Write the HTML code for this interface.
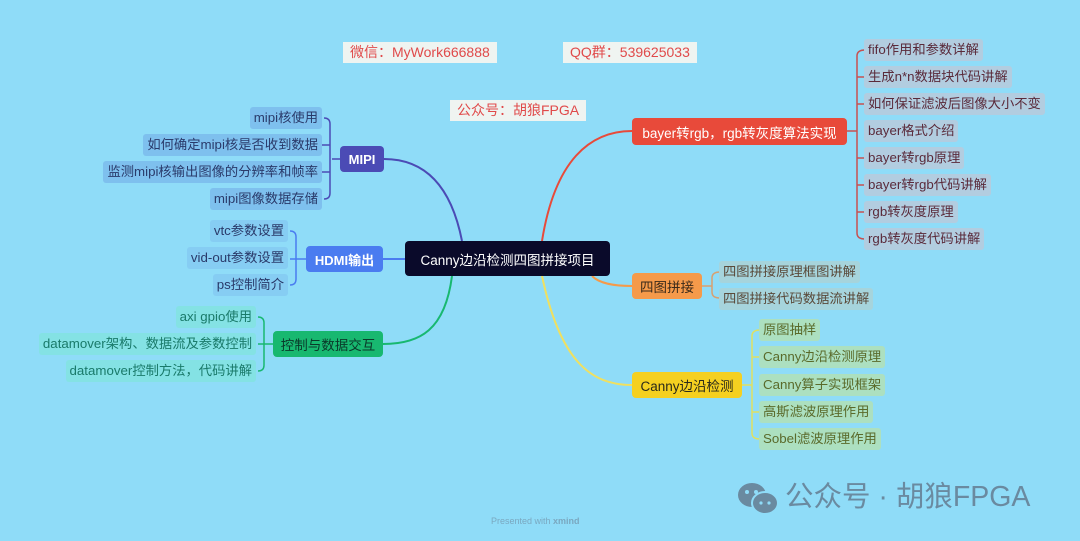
<!DOCTYPE html>
<html><head><meta charset="utf-8"><style>
body{margin:0;width:1080px;height:541px;background:#8fdcf8;position:relative;overflow:hidden;font-family:"Liberation Sans","Noto Sans CJK SC",sans-serif;}
.n{position:absolute;box-sizing:border-box;border-radius:4px;font-size:13px;display:flex;align-items:center;justify-content:center;white-space:nowrap;}
.m{color:#fff;font-weight:bold;}
.c{position:absolute;box-sizing:border-box;border-radius:3px;font-size:13.3px;height:22px;line-height:22px;padding:0 4px;white-space:nowrap;}
.L{background:#7ec0ee;color:#2a3a6a;}
.H{background:#86cdf3;color:#2a3a6a;}
.G{background:#84e2e4;color:#1a7a6a;}
.R{background:#b2cde0;color:#5a2a3a;}
.O{background:#a6d4dc;color:#5a4a3a;}
.Y{background:#ace0c0;color:#5a6a2a;}
.w{position:absolute;background:rgba(250,246,240,0.9);color:#e04a4a;font-size:14px;height:21px;line-height:21px;padding:0 7px;}
</style></head><body>
<svg width="1080" height="541" style="position:absolute;left:0;top:0">
<g fill="none" stroke-width="2">
<path d="M462 241 C450 180 420 159 384 159" stroke="#4b4bb5"/>
<path d="M405 259 L383 259" stroke="#4a7cf0"/>
<path d="M452 276 C445 330 420 344 383 344" stroke="#18b870"/>
<path d="M542 241 C555 160 590 131 632 131" stroke="#e84a3a"/>
<path d="M592 276 C600 284 615 286 632 286" stroke="#f59a4a"/>
<path d="M542 276 C560 360 590 385 632 385" stroke="#f0e060"/>
</g>
<g fill="none" stroke-width="1.5">
<path d="M340 159 H332 M324 118 Q330 118 330 124 V193 Q330 199 324 199 M322 145 H330 M322 172 H330" stroke="#4b4bb5"/>
<path d="M306 259 H290 M290 231 Q296 231 296 237 V279 Q296 285 290 285" stroke="#4a7cf0"/>
<path d="M273 344 H258 M258 317 Q264 317 264 323 V365 Q264 371 258 371" stroke="#18b870"/>
<path d="M847 131 H857 M865 50 Q857 50 857 56 V233 Q857 239 865 239 M857 77 H865 M857 104 H865 M857 158 H865 M857 185 H865 M857 212 H865" stroke="#c85050"/>
<path d="M702 286 H712 M720 272 Q712 272 712 278 V292 Q712 298 720 298" stroke="#d8a070"/>
<path d="M742 385 H752 M760 330 Q752 330 752 336 V433 Q752 439 760 439 M752 357 H760 M752 412 H760" stroke="#e0e060"/>
</g>
</svg>
<div class="n m" style="left:405px;top:241px;width:205px;height:35px;background:#0a0a2a;font-weight:normal;font-size:13.5px">Canny边沿检测四图拼接项目</div>
<div class="n m" style="left:340px;top:146px;width:44px;height:26px;background:#4b4bb5">MIPI</div>
<div class="n m" style="left:306px;top:246px;width:77px;height:26px;background:#4a7cf0">HDMI输出</div>
<div class="n m" style="left:273px;top:331px;width:110px;height:26px;background:#18b870;color:#0a3a2a;font-weight:normal;font-size:13.5px">控制与数据交互</div>
<div class="n m" style="left:632px;top:118px;width:215px;height:27px;background:#e84a3a;font-weight:normal;font-size:13.5px">bayer转rgb，rgb转灰度算法实现</div>
<div class="n" style="left:632px;top:273px;width:70px;height:26px;background:#f59a4a;color:#3a2a1a;font-size:13.5px">四图拼接</div>
<div class="n" style="left:632px;top:372px;width:110px;height:26px;background:#f5d020;color:#2a2a1a;font-size:13.5px">Canny边沿检测</div>

<div class="c L" style="right:758px;top:107px">mipi核使用</div>
<div class="c L" style="right:758px;top:134px">如何确定mipi核是否收到数据</div>
<div class="c L" style="right:758px;top:161px">监测mipi核输出图像的分辨率和帧率</div>
<div class="c L" style="right:758px;top:188px">mipi图像数据存储</div>
<div class="c H" style="right:792px;top:220px">vtc参数设置</div>
<div class="c H" style="right:792px;top:247px">vid-out参数设置</div>
<div class="c H" style="right:792px;top:274px">ps控制简介</div>
<div class="c G" style="right:824px;top:306px">axi gpio使用</div>
<div class="c G" style="right:824px;top:333px">datamover架构、数据流及参数控制</div>
<div class="c G" style="right:824px;top:360px">datamover控制方法，代码讲解</div>

<div class="c R" style="left:864px;top:39px">fifo作用和参数详解</div>
<div class="c R" style="left:864px;top:66px">生成n*n数据块代码讲解</div>
<div class="c R" style="left:864px;top:93px">如何保证滤波后图像大小不变</div>
<div class="c R" style="left:864px;top:120px">bayer格式介绍</div>
<div class="c R" style="left:864px;top:147px">bayer转rgb原理</div>
<div class="c R" style="left:864px;top:174px">bayer转rgb代码讲解</div>
<div class="c R" style="left:864px;top:201px">rgb转灰度原理</div>
<div class="c R" style="left:864px;top:228px">rgb转灰度代码讲解</div>
<div class="c O" style="left:719px;top:261px">四图拼接原理框图讲解</div>
<div class="c O" style="left:719px;top:288px">四图拼接代码数据流讲解</div>
<div class="c Y" style="left:759px;top:319px">原图抽样</div>
<div class="c Y" style="left:759px;top:346px">Canny边沿检测原理</div>
<div class="c Y" style="left:759px;top:374px">Canny算子实现框架</div>
<div class="c Y" style="left:759px;top:401px">高斯滤波原理作用</div>
<div class="c Y" style="left:759px;top:428px">Sobel滤波原理作用</div>

<div class="w" style="left:343px;top:42px">微信：MyWork666888</div>
<div class="w" style="left:563px;top:42px">QQ群：539625033</div>
<div class="w" style="left:450px;top:100px">公众号：胡狼FPGA</div>

<svg width="46" height="36" style="position:absolute;left:735px;top:480px">
<ellipse cx="17" cy="15" rx="14" ry="12" fill="#6a8aa0"/>
<ellipse cx="30" cy="23" rx="13" ry="11" fill="#6a8aa0" stroke="#8fdcf8" stroke-width="2"/>
<circle cx="12" cy="12" r="2" fill="#8fdcf8"/><circle cx="21" cy="12" r="2" fill="#8fdcf8"/>
<circle cx="26" cy="23" r="1.6" fill="#8fdcf8"/><circle cx="34" cy="23" r="1.6" fill="#8fdcf8"/>
</svg>
<div style="position:absolute;left:785px;top:478px;font-size:28.5px;color:#6a8aa0;white-space:nowrap;line-height:38px">公众号 · 胡狼FPGA</div>
<div style="position:absolute;left:491px;top:516px;font-size:9px;color:#7aa8c0">Presented with <b>xmind</b></div>
</body></html>
